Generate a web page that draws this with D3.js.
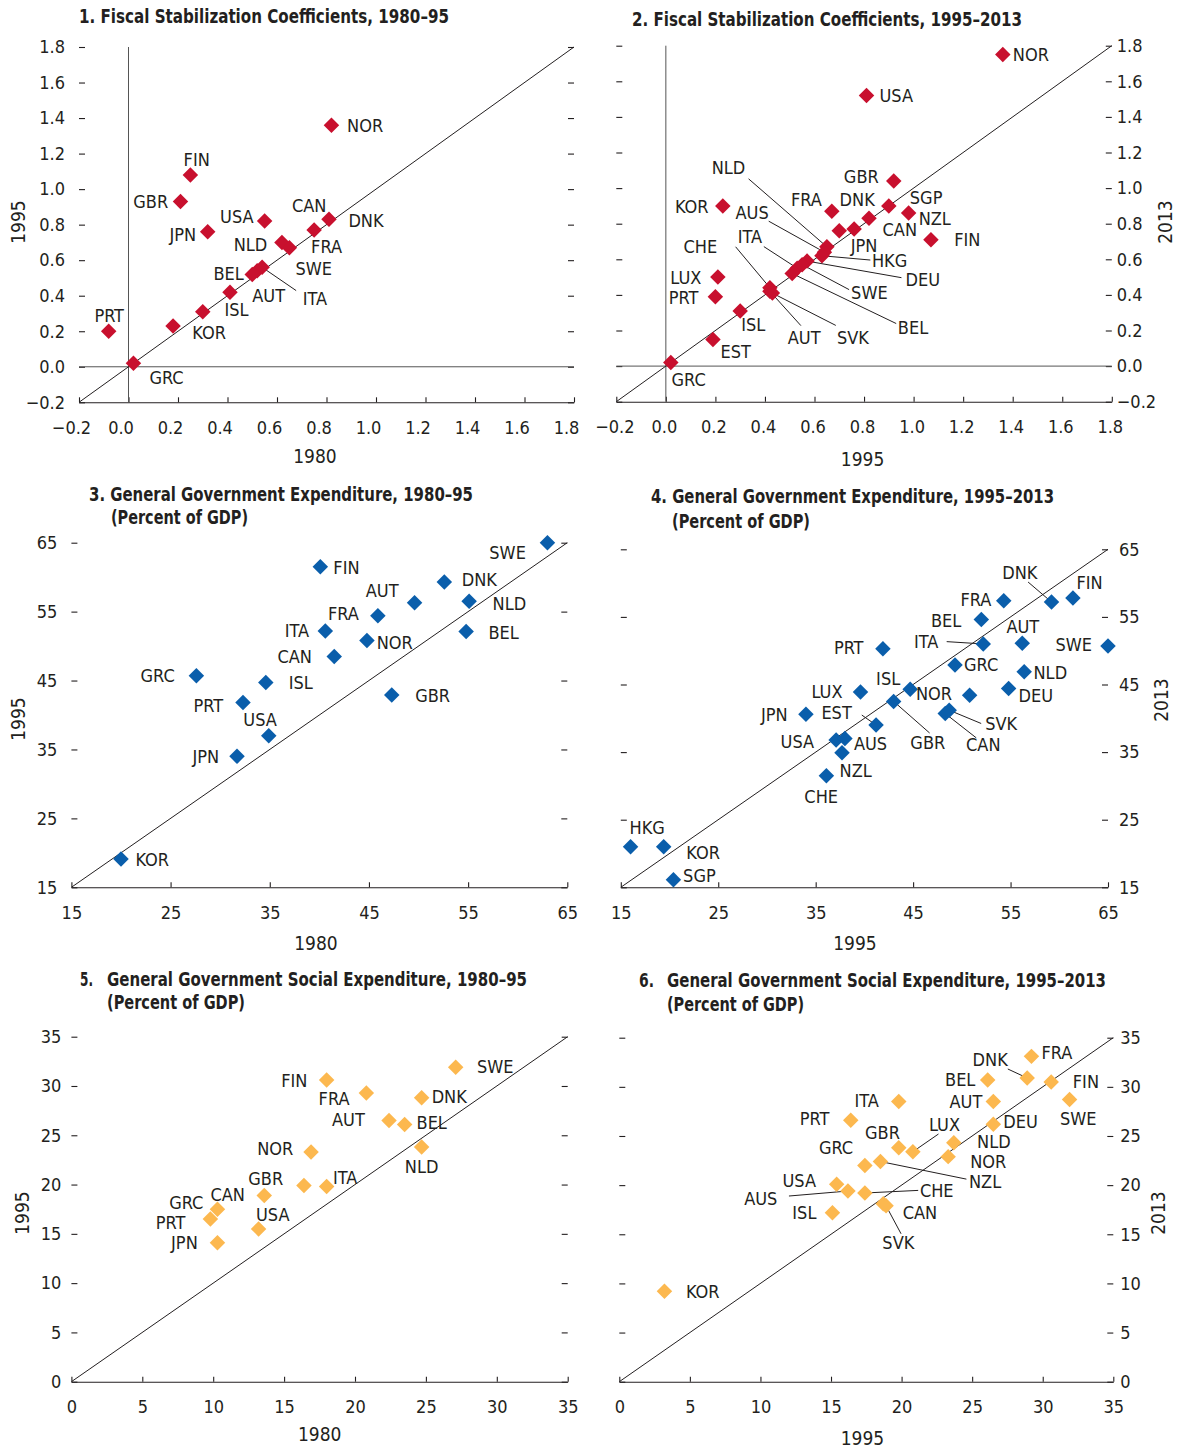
<!DOCTYPE html>
<html><head><meta charset="utf-8">
<script src="https://cdn.jsdelivr.net/npm/d3@7"></script>
<style>
body{margin:0;background:#fff;}
svg text{font-family:'Liberation Sans Narrow','Arial Narrow','DejaVu Sans Condensed',sans-serif;fill:#231f20;}
</style></head><body>
<svg id="chart" width="1178" height="1448"></svg>
<script>
// ---------- DATA ----------
// Panel 1: Fiscal stabilization coefficients, 1980 (x) vs 1995 (y)
const p1Codes = ["NOR","FIN","GBR","USA","JPN","CAN","DNK","NLD","FRA","SWE","BEL","ITA","AUT","ISL","KOR","PRT","GRC"];
const p1X = [0.82,0.25,0.21,0.55,0.32,0.75,0.81,0.62,0.65,0.52,0.50,0.54,0.41,0.30,0.18,-0.08,0.02];
const p1Y = [1.36,1.08,0.93,0.82,0.76,0.77,0.83,0.70,0.67,0.54,0.52,0.56,0.42,0.31,0.23,0.20,0.02];
// Panel 2: Fiscal stabilization coefficients, 1995 (x) vs 2013 (y)
const p2Codes = ["NOR","USA","GBR","SGP","NZL","FIN","DNK","FRA","KOR","CAN","JPN","NLD","AUS","HKG","ITA","CHE","LUX","DEU","PRT","SWE","ISL","BEL","AUT","SVK","EST","GRC"];
const p2X = [1.36,0.81,0.92,0.90,0.98,1.07,0.82,0.67,0.23,0.76,0.70,0.65,0.64,0.63,0.53,0.42,0.21,0.57,0.20,0.55,0.30,0.51,0.42,0.43,0.19,0.02];
const p2Y = [1.75,1.52,1.04,0.90,0.86,0.71,0.83,0.87,0.90,0.77,0.76,0.67,0.64,0.62,0.55,0.44,0.50,0.59,0.39,0.57,0.31,0.52,0.42,0.41,0.15,0.02];
// Panel 3: General government expenditure, 1980 vs 1995
const p3Codes = ["SWE","FIN","DNK","AUT","NLD","FRA","ITA","BEL","NOR","CAN","GRC","ISL","GBR","PRT","USA","JPN","KOR"];
const p3X = [63.0,40.1,52.6,49.6,55.1,45.9,40.6,54.8,44.8,41.5,27.6,34.6,47.3,32.3,34.9,31.7,20.0];
const p3Y = [65.0,61.5,59.3,56.3,56.5,54.4,52.2,52.1,50.8,48.5,45.7,44.7,42.9,41.8,37.0,34.0,19.1];
// Panel 4: General government expenditure, 1995 vs 2013
const p4Codes = ["DNK","FIN","FRA","BEL","AUT","SWE","ITA","PRT","GRC","NLD","ISL","LUX","NOR","DEU","JPN","EST","GBR","SVK","CAN","USA","AUS","NZL","CHE","HKG","KOR","SGP"];
const p4X = [59.2,61.4,54.3,52.0,56.2,65.0,52.2,41.9,49.3,56.4,44.7,39.6,50.8,54.8,34.0,41.2,43.0,48.7,48.3,37.1,38.0,37.7,36.1,16.0,19.4,20.4];
const p4Y = [57.2,57.8,57.4,54.6,51.1,50.7,51.0,50.3,47.9,46.9,44.3,43.9,43.4,44.4,40.6,39.0,42.5,41.2,40.7,36.8,37.0,34.9,31.5,21.0,21.0,16.1];
// Panel 5: Social expenditure, 1980 vs 1995
const p5Codes = ["SWE","FIN","FRA","DNK","AUT","BEL","NLD","NOR","GBR","ITA","CAN","GRC","PRT","USA","JPN"];
const p5X = [27.1,18.0,20.8,24.7,22.4,23.5,24.7,16.9,16.4,18.0,13.6,10.3,9.8,13.2,10.3];
const p5Y = [31.9,30.6,29.3,28.8,26.5,26.1,23.8,23.3,19.9,19.8,18.9,17.5,16.5,15.5,14.1];
// Panel 6: Social expenditure, 1995 vs 2013
const p6Codes = ["FRA","DNK","FIN","BEL","SWE","AUT","ITA","PRT","DEU","GBR","LUX","NLD","NOR","GRC","NZL","USA","AUS","CHE","ISL","CAN","SVK","KOR"];
const p6X = [29.2,28.9,30.6,26.1,31.9,26.5,19.8,16.4,26.5,19.8,20.8,23.7,23.3,17.4,18.5,15.4,16.2,17.4,15.1,18.7,18.9,3.2];
const p6Y = [33.1,30.9,30.5,30.7,28.7,28.5,28.5,26.6,26.2,23.8,23.4,24.3,22.9,22.0,22.4,20.1,19.4,19.2,17.2,18.1,17.9,9.2];

// Tick values
const fiscalTicks = [-0.2,0,0.2,0.4,0.6,0.8,1.0,1.2,1.4,1.6,1.8];
const expTicks = [15,25,35,45,55,65];
const socTicks = [0,5,10,15,20,25,30,35];

// ---------- LABEL LAYOUT (anchor, dx, dy, leader end dx, leader end dy) ----------
const L1 = {NOR:['s',15.6,0],FIN:['m',6.3,-15.7],GBR:['e',-12.3,0],USA:['e',-11,-5],JPN:['e',-11.5,2.3],CAN:['m',-5,-24.3],DNK:['s',19.4,0.7],NLD:['e',-14.7,1.7],FRA:['s',21.7,-1],SWE:['s',38.3,-2.7],BEL:['e',-8.4,-0.7],ITA:['s',40.6,31.6,34,23.3],AUT:['s',22.3,3.3],ISL:['s',21.7,-1.7],KOR:['s',19.3,6.6],PRT:['m',0.5,-15.7],GRC:['s',16,14.4]};
const L2 = {NOR:['s',10,0],USA:['s',13,0],GBR:['e',-15,-4],SGP:['s',21,-8.5],NZL:['s',10,5],FIN:['s',23.3,0],DNK:['m',-11.8,-19],FRA:['e',-10,-11.7],KOR:['e',-14.3,0.7],CAN:['s',28.4,0.7],JPN:['s',11.4,14.3],NLD:['e',-81.6,-79,-78.3,-68],AUS:['e',-55.7,-39.4,-55.7,-31],ITA:['e',-35,-31.6,-33.3,-21.6],CHE:['e',-52.6,-41,-34.3,-41],HKG:['s',50,5,48.4,4.3],LUX:['e',-16.5,0],DEU:['s',98.4,18.6,94.4,16.6],PRT:['e',-17,0.7],SWE:['s',49,27.7,47,25],ISL:['s',1,13.3],BEL:['s',105.6,54,104,50],AUT:['m',34.3,46.6,31,34.3],SVK:['m',80.5,44.6,63.4,32.3],EST:['s',7.7,12.4],GRC:['s',0.7,16.7]};
const L3 = {SWE:['e',-21.6,10],FIN:['s',13,0.6],DNK:['s',17.4,-2],AUT:['m',-32.4,-12],NLD:['s',23.5,2.7],FRA:['e',-19,-2],ITA:['e',-16.3,0],BEL:['s',22.3,0.6],NOR:['s',9.7,2],CAN:['e',-22.3,0],GRC:['e',-21.6,0],ISL:['s',23,0],GBR:['s',23.4,0],PRT:['e',-19.8,2.7],USA:['m',-8.7,-15.7],JPN:['e',-17.9,0],KOR:['s',14.5,0]};
const L4 = {DNK:['m',-31.7,-30,-23.4,-20],FIN:['s',3.5,-15],FRA:['e',-12.3,-1.4],BEL:['e',-20,0.7],AUT:['m',0.6,-16.6],SWE:['e',-16,-1.7],ITA:['e',-45,-2.3,-36.6,-2.3],PRT:['e',-19.4,-0.7],GRC:['s',9,0],NLD:['s',9.3,1],ISL:['e',-10,-11],LUX:['e',-18,0],NOR:['e',-17.6,-1.7],DEU:['s',10,6.7],JPN:['e',-18.4,0],EST:['e',-24.3,-12.3,-14.3,-10],GBR:['m',34.2,41,36,31.6],SVK:['s',36,13.3,32,13.3],CAN:['m',38,31,31,24.3],USA:['e',-22,1.7],AUS:['s',9,5],NZL:['s',-2.4,18],CHE:['m',-5.2,20.7],HKG:['s',-1,-19.4],KOR:['s',22.6,6],SGP:['s',9.7,-4]};
const L5 = {SWE:['s',21.2,-0.6],FIN:['e',-19.3,0],FRA:['e',-16.8,5.7],DNK:['s',10,-1],AUT:['e',-24.2,-0.7],BEL:['s',11.9,-2.3],NLD:['m',0,19.4],NOR:['e',-17.8,-3.4],GBR:['e',-20.8,-6.7],ITA:['s',6.3,-9.4],CAN:['e',-19.3,-1],GRC:['e',-14.1,-6.6],PRT:['e',-24.9,3],USA:['s',-2.6,-14.7],JPN:['e',-19.7,0]};
const L6 = {FRA:['s',10,-4],DNK:['e',-19.4,-18.3,-19.4,-9],BEL:['e',-12.3,0],FIN:['s',21.6,0],ITA:['e',-20,-1],AUT:['e',-11,0],SWE:['m',8.7,19.3],PRT:['e',-21.4,-1.4],DEU:['s',10,-2.3],LUX:['m',31.6,-27.7,25.6,-17.7],GBR:['m',-16.3,-15.6],NLD:['s',23.3,-1],NOR:['s',22,5],GRC:['e',-11.7,-17.7],NZL:['s',88.6,20,86,17.6],USA:['e',-20.6,-3.3],AUS:['e',-70.6,7.6,-59,5],CHE:['s',55,-2.6,53.3,-2.6],ISL:['e',-16,0],CAN:['s',19.4,8.4],SVK:['m',12.3,36.7,15,28],KOR:['s',21.5,0]};

// ---------- STYLE ----------
const RED = "#c8102e", BLUE = "#0a5eab", GOLD = "#fcb84f";
const INK = "#231f20";
const FS = 18;

const fmtFiscal = v => (v < 0 ? "\u2212" : "") + Math.abs(v).toFixed(1);
const fmtInt = v => String(v);

// title entries: [x, baseline y, text, target width]
const panels = [
  {codes:p1Codes, xs:p1X, ys:p1Y, lay:L1, color:RED, domain:[-0.2,1.8], ticks:fiscalTicks, fmt:fmtFiscal,
   xr:[79,574], yr:[402.3,47], side:'left', gap:14, zero:true, xlShift:-8,
   title:[[79,23,"1. Fiscal Stabilization Coefficients, 1980\u201395",370]],
   xt:[315,463,"1980"], yt:[18.6,222,"1995"]},
  {codes:p2Codes, xs:p2X, ys:p2Y, lay:L2, color:RED, domain:[-0.2,1.8], ticks:fiscalTicks, fmt:fmtFiscal,
   xr:[616.3,1111.8], yr:[401.7,45.7], side:'right', gap:5, zero:true, xlShift:-2,
   title:[[632,26,"2. Fiscal Stabilization Coefficients, 1995\u20132013",390]],
   xt:[862.6,466,"1995"], yt:[1165,222,"2013"]},
  {codes:p3Codes, xs:p3X, ys:p3Y, lay:L3, color:BLUE, domain:[15,65], ticks:expTicks, fmt:fmtInt,
   xr:[71.4,567.3], yr:[887.3,542.7], side:'left', gap:14, zero:false, xlShift:0,
   title:[[89,501,"3. General Government Expenditure, 1980\u201395",384],[111,524,"(Percent of GDP)",137]],
   xt:[316,950,"1980"], yt:[18.6,719,"1995"]},
  {codes:p4Codes, xs:p4X, ys:p4Y, lay:L4, color:BLUE, domain:[15,65], ticks:expTicks, fmt:fmtInt,
   xr:[620.8,1108], yr:[887.3,549.3], side:'right', gap:11, zero:false, xlShift:0,
   title:[[651,503,"4. General Government Expenditure, 1995\u20132013",403],[672,528,"(Percent of GDP)",138]],
   xt:[855,950,"1995"], yt:[1161,700,"2013"]},
  {codes:p5Codes, xs:p5X, ys:p5Y, lay:L5, color:GOLD, domain:[0,35], ticks:socTicks, fmt:fmtInt,
   xr:[71.4,567.7], yr:[1381.7,1036.7], side:'left', gap:10, zero:false, xlShift:0,
   title:[[80,986,"5.",13],[107,986,"General Government Social Expenditure, 1980\u201395",420],[107,1009,"(Percent of GDP)",138]],
   xt:[319.7,1441,"1980"], yt:[22,1213,"1995"]},
  {codes:p6Codes, xs:p6X, ys:p6Y, lay:L6, color:GOLD, domain:[0,35], ticks:socTicks, fmt:fmtInt,
   xr:[619.3,1113.3], yr:[1381.7,1037.7], side:'right', gap:7, zero:false, xlShift:0,
   title:[[639,987,"6.",15],[667,987,"General Government Social Expenditure, 1995\u20132013",439],[667,1011,"(Percent of GDP)",137]],
   xt:[862.5,1445,"1995"], yt:[1158,1213,"2013"]}
];

const svg = d3.select("#chart");
const diamond = d3.symbol().type(d3.symbolSquare).size(120);

panels.forEach(p => {
  const x = d3.scaleLinear().domain(p.domain).range(p.xr);
  const y = d3.scaleLinear().domain(p.domain).range(p.yr);
  const g = svg.append("g");

  // titles
  p.title.forEach(t => g.append("text").attr("x",t[0]).attr("y",t[1])
    .attr("font-size",19).attr("font-weight","bold")
    .attr("textLength",t[3]).attr("lengthAdjust","spacingAndGlyphs").text(t[2]));

  // x axis (bottom, ticks pointing up)
  const xa = g.append("g").attr("transform",`translate(0,${p.yr[0]})`)
    .call(d3.axisBottom(x).tickValues(p.ticks).tickFormat(p.fmt).tickSizeInner(-5).tickSizeOuter(0).tickPadding(19));
  xa.selectAll("text").attr("font-size",FS).attr("font-family",null).attr("dx",p.xlShift).style("fill",INK);
  xa.selectAll("line,path").attr("stroke",INK).attr("stroke-width",1.1);

  // y axes: dashes on both sides, labels on one side
  const yl = d3.axisLeft(y).tickValues(p.ticks).tickSizeInner(-6).tickSizeOuter(0)
    .tickPadding(p.gap).tickFormat(p.side === 'left' ? p.fmt : () => "");
  const yr = d3.axisRight(y).tickValues(p.ticks).tickSizeInner(-6).tickSizeOuter(0)
    .tickPadding(p.gap).tickFormat(p.side === 'right' ? p.fmt : () => "");
  [[yl,p.xr[0]],[yr,p.xr[1]]].forEach(([ax,pos]) => {
    const ga = g.append("g").attr("transform",`translate(${pos},0)`).call(ax);
    ga.select(".domain").remove();
    ga.selectAll("line").attr("stroke",INK).attr("stroke-width",1.1);
    ga.selectAll("text").attr("font-size",FS).attr("font-family",null).style("fill",INK);
  });

  // axis titles
  g.append("text").attr("x",p.xt[0]).attr("y",p.xt[1]).attr("text-anchor","middle")
    .attr("font-size",19).text(p.xt[2]);
  g.append("text").attr("transform",`translate(${p.yt[0]},${p.yt[1]}) rotate(-90)`)
    .attr("text-anchor","middle").attr("dy","0.35em").attr("font-size",19).text(p.yt[2]);

  // zero lines
  if (p.zero) {
    g.append("line").attr("x1",x(0)).attr("x2",x(0)).attr("y1",y(p.domain[1])).attr("y2",y(p.domain[0]))
      .attr("stroke","#555").attr("stroke-width",1);
    g.append("line").attr("x1",x(p.domain[0])).attr("x2",x(p.domain[1])).attr("y1",y(0)).attr("y2",y(0))
      .attr("stroke","#555").attr("stroke-width",1);
  }
  // 45-degree line
  g.append("line").attr("x1",x(p.domain[0])).attr("y1",y(p.domain[0]))
    .attr("x2",x(p.domain[1])).attr("y2",y(p.domain[1])).attr("stroke",INK).attr("stroke-width",1);

  const data = p.codes.map((c,i) => ({code:c, x:p.xs[i], y:p.ys[i], lay:p.lay[c]}));

  // leader lines
  g.selectAll("line.leader").data(data.filter(d => d.lay && d.lay.length > 3)).join("line")
    .attr("class","leader")
    .attr("x1",d => x(d.x)).attr("y1",d => y(d.y))
    .attr("x2",d => x(d.x) + d.lay[3]).attr("y2",d => y(d.y) + d.lay[4])
    .attr("stroke",INK).attr("stroke-width",1);

  // diamonds
  g.selectAll("path.pt").data(data).join("path").attr("class","pt")
    .attr("d",diamond)
    .attr("transform",d => `translate(${x(d.x)},${y(d.y)}) rotate(45)`)
    .attr("fill",p.color);

  // labels
  const anc = {s:"start", e:"end", m:"middle"};
  g.selectAll("text.lbl").data(data).join("text").attr("class","lbl")
    .attr("x",d => x(d.x) + d.lay[1])
    .attr("y",d => y(d.y) + d.lay[2] + 6.5)
    .attr("text-anchor",d => anc[d.lay[0]])
    .attr("font-size",FS).text(d => d.code);
});
</script>
</body></html>
